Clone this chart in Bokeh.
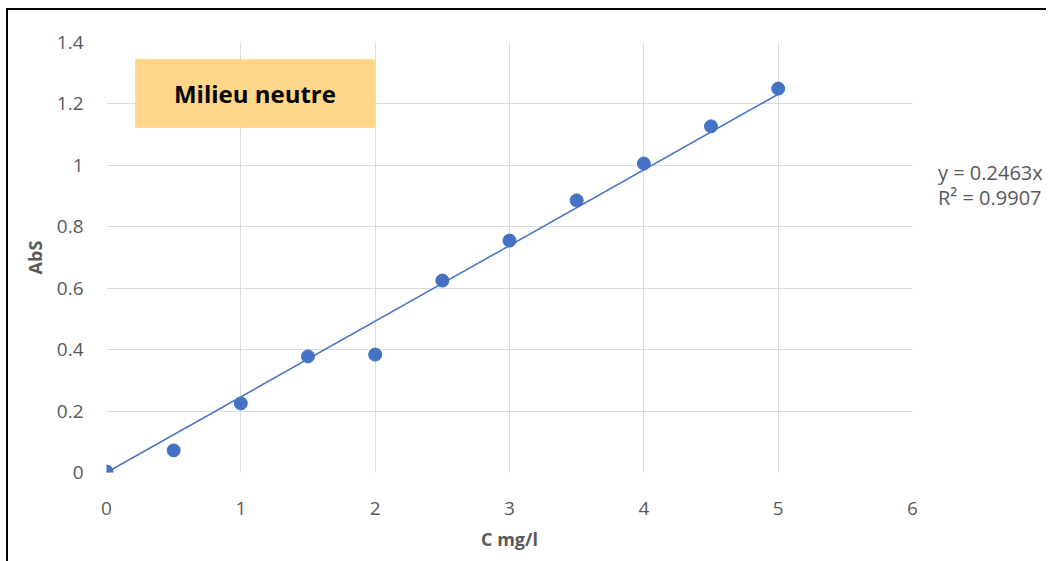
from bokeh.plotting import figure
from bokeh.models import FixedTicker, Label, BoxAnnotation, Div
from bokeh.layouts import row
from bokeh.embed import file_html
from bokeh.resources import INLINE

# data
conc = [0, 0.5, 1, 1.5, 2, 2.5, 3, 3.5, 4, 4.5, 5]
absorb = [0.003, 0.072, 0.225, 0.378, 0.384, 0.625, 0.755, 0.886, 1.006, 1.127, 1.25]
slope = 0.2463
r2 = 0.9907
x_ticks = [0, 1, 2, 3, 4, 5, 6]
y_ticks = [0, 0.2, 0.4, 0.6, 0.8, 1.0, 1.2, 1.4]
y_tick_labels = ["0", "0.2", "0.4", "0.6", "0.8", "1", "1.2", "1.4"]
x_label = "C mg/l"
y_label = "AbS"
box_text = "Milieu neutre"

FONT = "Open Sans"
GREY = "#595959"

p = figure(width=924, height=550, x_range=(0, 6), y_range=(0, 1.4),
           output_backend="svg", toolbar_location=None,
           min_border_left=98, min_border_right=20, min_border_top=32, min_border_bottom=88)
p.outline_line_color = None
p.background_fill_color = "white"

for ax in (p.xaxis, p.yaxis):
    ax.axis_line_color = None
    ax.major_tick_line_color = None
    ax.minor_tick_line_color = None
    ax.major_label_text_font = FONT
    ax.major_label_text_font_size = "19px"
    ax.major_label_text_color = GREY
    ax.axis_label_text_font = FONT
    ax.axis_label_text_font_size = "18px"
    ax.axis_label_text_font_style = "bold"
    ax.axis_label_text_color = GREY

p.xaxis.ticker = FixedTicker(ticks=x_ticks)
p.yaxis.ticker = FixedTicker(ticks=y_ticks)
p.yaxis.major_label_overrides = {t: l for t, l in zip(y_ticks, y_tick_labels)}
p.xaxis.major_label_standoff = 23
p.yaxis.major_label_standoff = 17
p.xaxis.axis_label = x_label
p.yaxis.axis_label = y_label
p.xaxis.axis_label_standoff = 9
p.yaxis.axis_label_standoff = 7

p.xgrid.grid_line_color = "#d9dce3"
p.ygrid.grid_line_color = "#d9dce3"
p.xgrid.grid_line_width = 1
p.ygrid.grid_line_width = 1

# trendline
tx = [0, max(conc)]
ty = [slope * v for v in tx]
p.line(tx, ty, line_color="#4472c4", line_width=1.5)
p.scatter(conc, absorb, size=13, fill_color="#4472c4", line_color="#4472c4")

# annotation box
p.add_layout(BoxAnnotation(left=0.216, right=1.995, bottom=1.123, top=1.345,
                           fill_color="#ffd68a", fill_alpha=1, line_color="#ffc000",
                           line_width=1, level="overlay"))
p.add_layout(Label(x=1.105, y=1.234, text=box_text, text_font=FONT, text_font_size="24px",
                   text_font_style="bold", text_color="black", text_align="center",
                   text_baseline="middle", level="overlay"))

eq = Div(text=f"y = {slope}x<br>R² = {r2}", width=104, height=550,
         styles={"padding-top": "145px", "padding-left": "1px", "font-family": FONT,
                 "font-size": "20px", "color": GREY, "line-height": "25px",
                 "white-space": "nowrap", "overflow": "visible"})

layout = row(p, eq, styles={"border-left": "2px solid #000", "border-top": "2px solid #000",
                            "margin-left": "6px", "margin-top": "8px", "overflow": "visible"})

open("out.html", "w").write(file_html(layout, INLINE))
